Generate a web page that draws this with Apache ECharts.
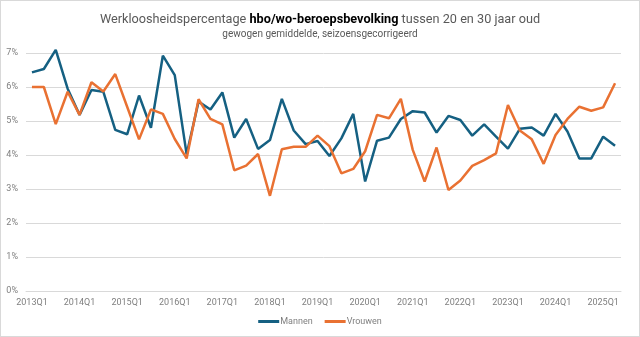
<!DOCTYPE html>
<html><head><meta charset="utf-8">
<script src="https://cdn.jsdelivr.net/npm/echarts@6/dist/echarts.min.js"></script>
<style>html,body{margin:0;padding:0;background:#fff}#c{width:638px;height:335px;border:1px solid #d9d9d9}</style>
</head><body><div id="c"></div>
<script>
const categories = [];
for (let y = 2013; y <= 2025; y++) for (let q = 1; q <= 4; q++) categories.push(y + 'Q' + q);
categories.length = 50;
const mannen = [6.43,6.53,7.09,5.95,5.18,5.91,5.86,4.74,4.61,5.75,4.80,6.92,6.35,4.02,5.57,5.34,5.84,4.51,5.06,4.18,4.44,5.65,4.72,4.32,4.41,3.97,4.49,5.21,3.22,4.42,4.51,5.06,5.29,5.25,4.66,5.15,5.03,4.57,4.90,4.54,4.19,4.77,4.81,4.57,5.21,4.69,3.90,3.90,4.54,4.27];
const vrouwen = [6.0,6.0,4.91,5.86,5.18,6.14,5.87,6.38,5.42,4.46,5.34,5.21,4.47,3.90,5.64,5.06,4.90,3.55,3.69,4.03,2.80,4.17,4.24,4.24,4.57,4.26,3.46,3.59,4.11,5.18,5.08,5.65,4.15,3.22,4.22,2.97,3.25,3.68,3.85,4.05,5.47,4.72,4.46,3.74,4.59,5.06,5.42,5.30,5.40,6.11];
const yTicks = [0,1,2,3,4,5,6,7];

const chart = echarts.init(document.getElementById('c'));
chart.setOption({
  animation:false,
  title:[{
    text:'{n|Werkloosheidspercentage }{b|hbo/wo-beroepsbevolking}{n| tussen 20 en 30 jaar oud}',
    left:'center', top:7,
    textStyle:{fontWeight:'normal',rich:{
      n:{fontFamily:'Roboto',fontSize:12.7,color:'#595959',fontWeight:'normal'},
      b:{fontFamily:'Roboto',fontSize:12.7,color:'#000',fontWeight:'bold'}
    }},
    subtext:'gewogen gemiddelde, seizoensgecorrigeerd',
    subtextStyle:{fontFamily:'Roboto',fontSize:10,color:'#595959'},
    itemGap:3
  }],
  legend:{bottom:5,left:'center',itemWidth:21,itemHeight:3,itemGap:12,icon:'rect',
    textStyle:{fontFamily:'Roboto',fontSize:9,color:'#7f7f7f',padding:[0,0,0,-4]},data:['Mannen','Vrouwen']},
  grid:{left:25,right:18,top:52,bottom:45},
  xAxis:{type:'category',data:categories,boundaryGap:true,
    axisLine:{lineStyle:{color:'#d9d9d9'}},axisTick:{show:false},
    axisLabel:{interval:3,fontFamily:'Roboto',fontSize:9,color:'#7f7f7f',margin:7}},
  yAxis:{type:'value',min:yTicks[0],max:yTicks[yTicks.length-1],interval:1,
    axisLabel:{formatter:'{value}%',fontFamily:'Roboto',fontSize:9,color:'#7f7f7f',margin:8},
    splitLine:{lineStyle:{color:'#d9d9d9'}},axisLine:{show:false},axisTick:{show:false}},
  series:[
    {name:'Mannen',type:'line',data:mannen,symbol:'none',clip:false,lineStyle:{width:2.5,color:'#156082'},itemStyle:{color:'#156082'}},
    {name:'Vrouwen',type:'line',data:vrouwen,symbol:'none',clip:false,lineStyle:{width:2.5,color:'#E97132'},itemStyle:{color:'#E97132'}}
  ]
});
</script></body></html>
